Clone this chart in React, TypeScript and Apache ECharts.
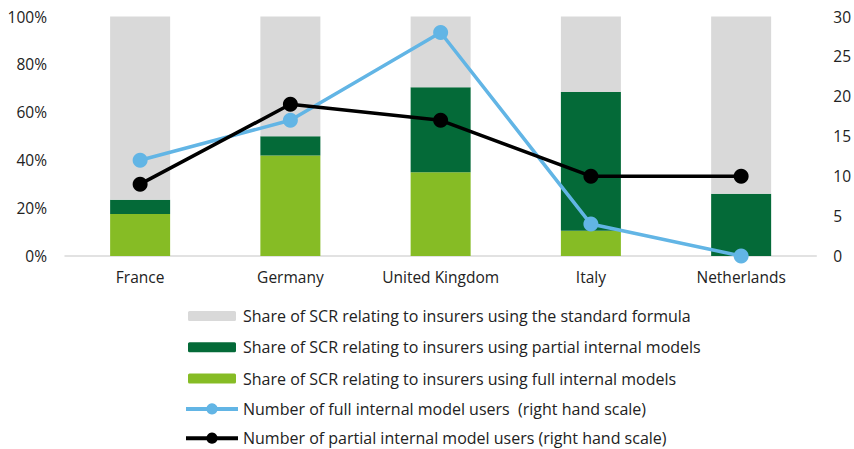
import React, { useEffect, useRef } from "react";
import * as echarts from "echarts";

const categories = ["France", "Germany", "United Kingdom", "Italy", "Netherlands"];
const fullShare = [17.5, 42, 35, 10.5, 0];
const partialShare = [6, 8, 35.5, 58, 26];
const standardShare = [76.5, 50, 29.5, 31.5, 74];
const fullUsers = [12, 17, 28, 4, 0];
const partialUsers = [9, 19, 17, 10, 10];

const names = {
  standard: "Share of SCR relating to insurers using the standard formula",
  partial: "Share of SCR relating to insurers using partial internal models",
  full: "Share of SCR relating to insurers using full internal models",
  fullUsers: "Number of full internal model users  (right hand scale)",
  partialUsers: "Number of partial internal model users (right hand scale)",
};

const FONT = "'Open Sans', 'Noto Sans', sans-serif";
const TEXT = "#222222";

export default function App() {
  const ref = useRef<HTMLDivElement>(null);
  useEffect(() => {
    if (!ref.current) return;
    const chart = echarts.init(ref.current, undefined, { renderer: "svg" });
    const barIcon = { itemStyle: { borderColor: "#ffffff", borderWidth: 4 } };
    chart.setOption({
      animation: false,
      textStyle: { fontFamily: FONT },
      grid: { left: 65, right: 35, top: 16.5, bottom: 193, containLabel: false },
      legend: {
        orient: "vertical",
        left: 179,
        top: 302,
        height: 150,
        itemWidth: 52,
        itemHeight: 14,
        itemGap: 13.3,
        lineStyle: { width: 4 },
        textStyle: { fontFamily: FONT, fontSize: 16, color: TEXT },
        data: [
          { name: names.standard, ...barIcon },
          { name: names.partial, ...barIcon },
          { name: names.full, ...barIcon },
          { name: names.fullUsers },
          { name: names.partialUsers },
        ],
      },
      xAxis: {
        type: "category",
        data: categories,
        axisLine: { lineStyle: { color: "#d9d9d9", width: 1.5 } },
        axisTick: { show: false },
        axisLabel: { interval: 0, fontSize: 15.5, color: TEXT, margin: 13, fontFamily: FONT },
      },
      yAxis: [
        {
          type: "value",
          min: 0,
          max: 100,
          interval: 20,
          axisLabel: { formatter: "{value}%", fontSize: 15.5, color: TEXT, margin: 18, fontFamily: FONT },
          splitLine: { show: false },
          axisLine: { show: false },
          axisTick: { show: false },
        },
        {
          type: "value",
          min: 0,
          max: 30,
          interval: 5,
          position: "right",
          axisLabel: { fontSize: 15.5, color: TEXT, margin: 17, fontFamily: FONT },
          splitLine: { show: false },
          axisLine: { show: false },
          axisTick: { show: false },
        },
      ],
      series: [
        {
          name: names.full,
          type: "bar",
          stack: "share",
          data: fullShare,
          barWidth: 60,
          itemStyle: { color: "#86bc25" },
        },
        {
          name: names.partial,
          type: "bar",
          stack: "share",
          data: partialShare,
          barWidth: 60,
          itemStyle: { color: "#046a38" },
        },
        {
          name: names.standard,
          type: "bar",
          stack: "share",
          data: standardShare,
          barWidth: 60,
          itemStyle: { color: "#d9d9d9" },
        },
        {
          name: names.fullUsers,
          type: "line",
          yAxisIndex: 1,
          data: fullUsers,
          symbol: "circle",
          symbolSize: 15,
          lineStyle: { color: "#62b5e5", width: 3.5 },
          itemStyle: { color: "#62b5e5" },
        },
        {
          name: names.partialUsers,
          type: "line",
          yAxisIndex: 1,
          data: partialUsers,
          symbol: "circle",
          symbolSize: 15,
          lineStyle: { color: "#000000", width: 3.5 },
          itemStyle: { color: "#000000" },
        },
      ],
    });
    return () => chart.dispose();
  }, []);
  return <div ref={ref} style={{ width: 854, height: 449, position: "absolute", left: 0, top: 0 }} />;
}
